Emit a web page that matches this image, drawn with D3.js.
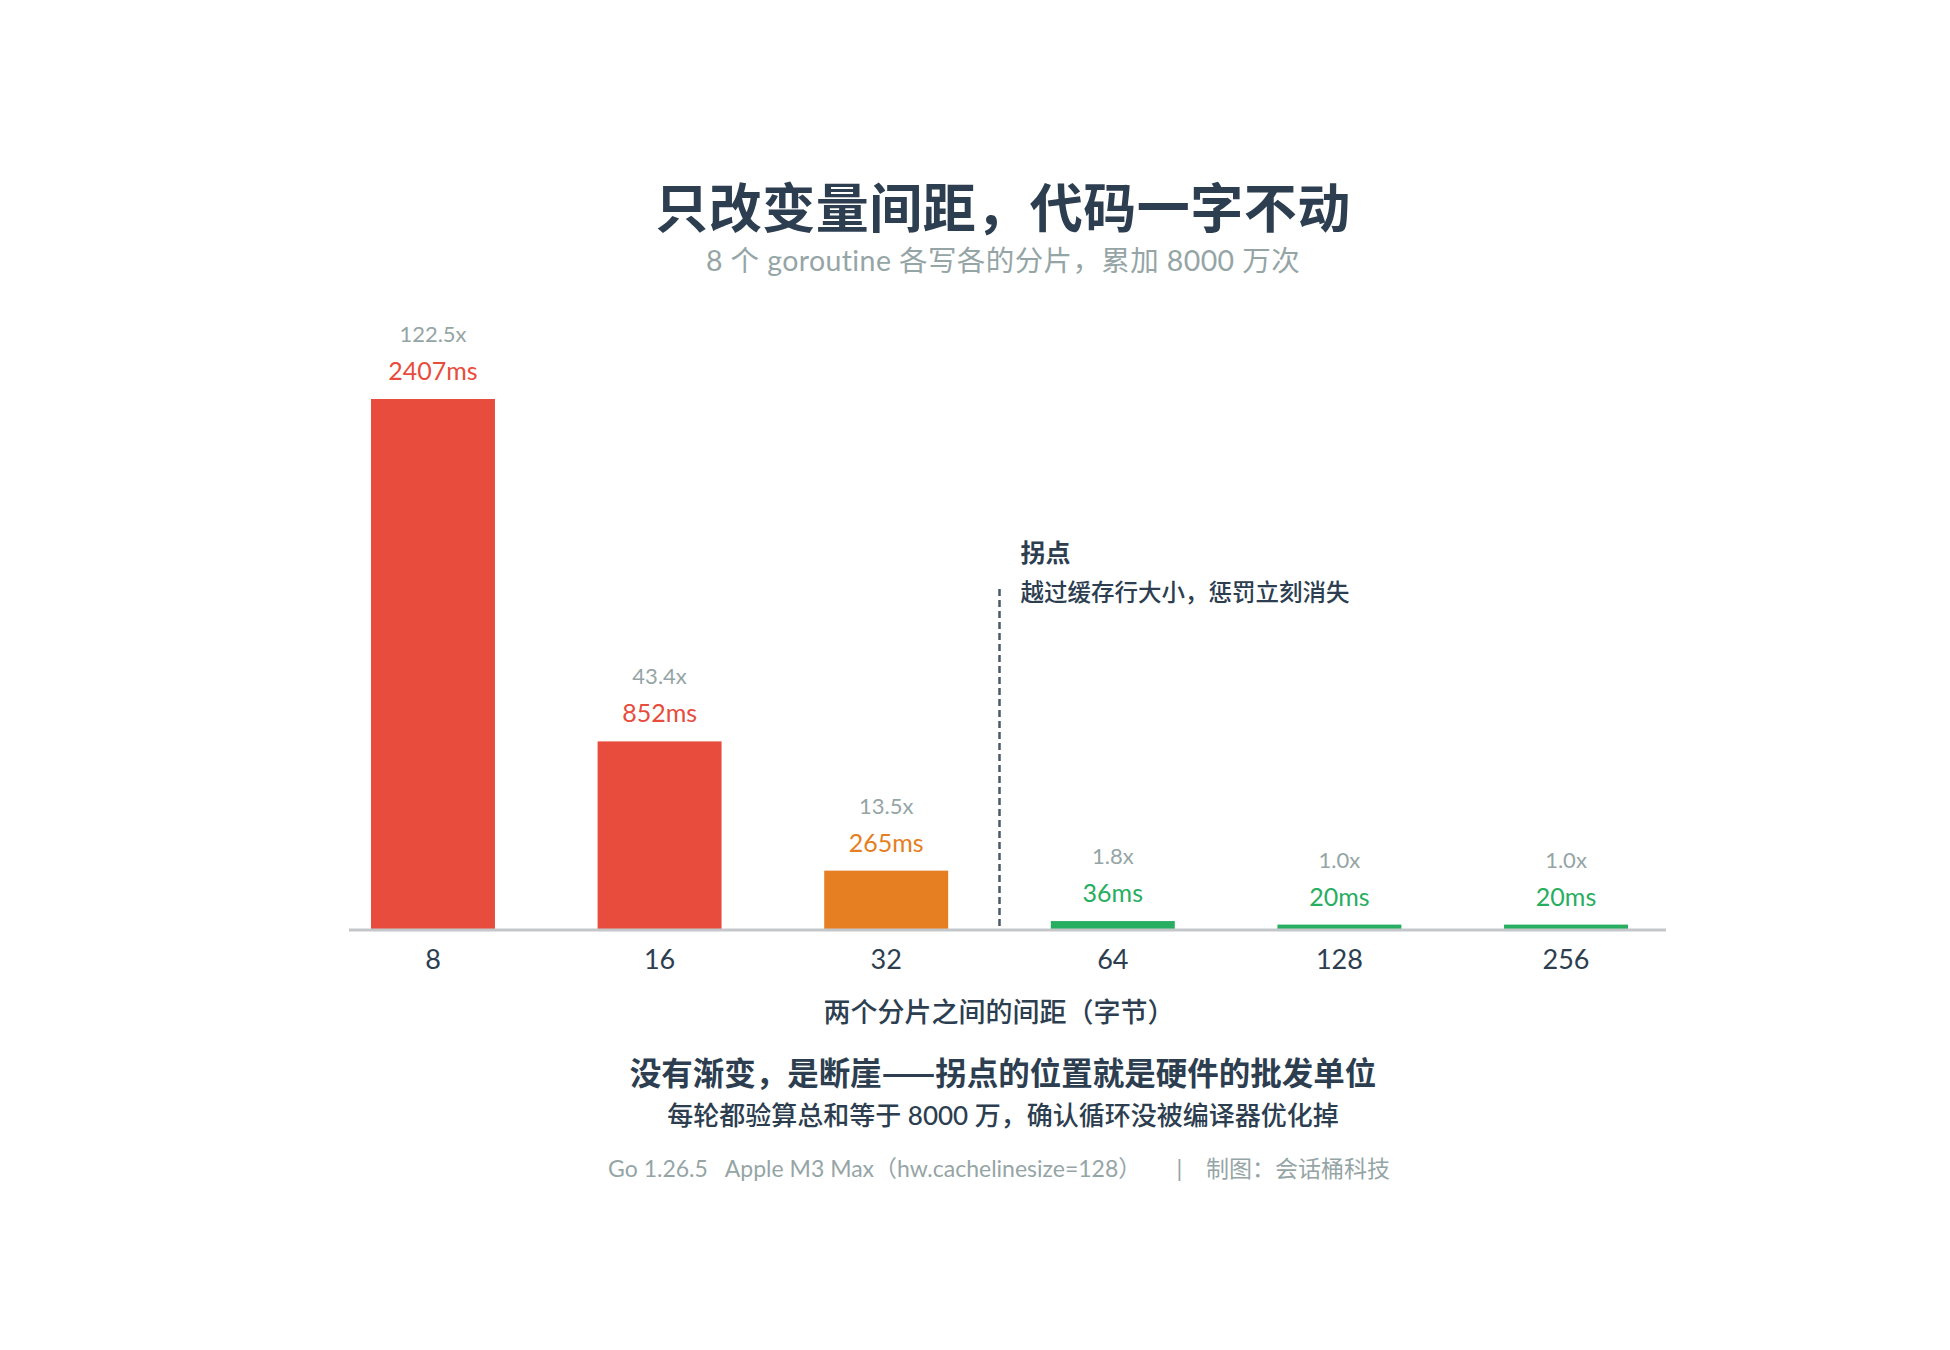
<!DOCTYPE html>
<html>
<head>
<meta charset="utf-8">
<script src="https://cdn.jsdelivr.net/npm/d3@7"></script>
<style>
  html, body { margin: 0; padding: 0; background: #ffffff; }
  svg text { white-space: pre; }
</style>
</head>
<body>
<script>
// ---- data ----
const categories = ["8", "16", "32", "64", "128", "256"];
const timesMs = [2407, 852, 265, 36, 20, 20];
const ratioLabels = ["122.5x", "43.4x", "13.5x", "1.8x", "1.0x", "1.0x"];
const titleText = "只改变量间距，代码一字不动";
const subtitleText = "8 个 goroutine 各写各的分片，累加 8000 万次";
const xAxisTitle = "两个分片之间的间距（字节）";
const annotationTitle = "拐点";
const annotationText = "越过缓存行大小，惩罚立刻消失";
const footerMain = "没有渐变，是断崖——拐点的位置就是硬件的批发单位";
const footerSub = "每轮都验算总和等于 8000 万，确认循环没被编译器优化掉";
const footerMeta = "Go 1.26.5   Apple M3 Max（hw.cachelinesize=128）      |    制图：会话桶科技";
const breakBetween = ["32", "64"];

// ---- setup ----
const W = 1950, H = 1350;
const FONT = "Lato, 'Noto Sans CJK SC', sans-serif";
const CJK = "'Noto Sans CJK SC', Lato, sans-serif";
const dark = "#2c3e50", gray = "#95a5a6";

const svg = d3.select("body").append("svg")
  .attr("width", W).attr("height", H)
  .style("background", "#fff");

const x = d3.scaleBand().domain(categories).range([371, 1628])
  .paddingInner(0.453).paddingOuter(0);
const y = d3.scaleLinear().domain([0, d3.max(timesMs)]).range([929, 399]);
const color = d3.scaleThreshold().domain([100, 500]).range(["#27ae60", "#e67e22", "#e74c3c"]);

const data = categories.map((c, i) => ({ c, v: timesMs[i], r: ratioLabels[i] }));
const cx = d => x(d.c) + x.bandwidth() / 2;

// title & subtitle
svg.append("text").attr("x", 1003).attr("y", 228)
  .attr("text-anchor", "middle").attr("font-family", CJK)
  .attr("font-size", 53).attr("font-weight", 600).attr("fill", dark)
  .attr("letter-spacing", 0.5)
  .text(titleText);
svg.append("text").attr("x", 1003).attr("y", 271)
  .attr("text-anchor", "middle").attr("font-family", FONT)
  .attr("font-size", 28.5).attr("fill", gray).attr("letter-spacing", 0.4)
  .text(subtitleText);

// bars
svg.append("g").selectAll("rect").data(data).join("rect")
  .attr("x", d => x(d.c)).attr("width", x.bandwidth())
  .attr("y", d => y(d.v)).attr("height", d => y(0) - y(d.v))
  .attr("fill", d => color(d.v));

// axis baseline
svg.append("line")
  .attr("x1", x.range()[0] - 22).attr("x2", x.range()[1] + 38)
  .attr("y1", y(0) + 1).attr("y2", y(0) + 1)
  .attr("stroke", "#c3c7ca").attr("stroke-width", 3);

// x axis tick labels via d3 axis
const xAxis = d3.axisBottom(x).tickSize(0).tickPadding(38);
const gx = svg.append("g").attr("transform", `translate(0,${y(0)})`).call(xAxis);
gx.select(".domain").remove();
gx.selectAll("text").attr("font-family", FONT).attr("font-size", 27)
  .attr("fill", dark).attr("dy", null).attr("y", 40);

// value labels
svg.append("g").selectAll("text").data(data).join("text")
  .attr("x", cx).attr("y", d => y(d.v) - 19)
  .attr("text-anchor", "middle").attr("font-family", FONT)
  .attr("font-size", 25).attr("fill", d => color(d.v))
  .text(d => d.v + "ms");
svg.append("g").selectAll("text").data(data).join("text")
  .attr("x", cx).attr("y", d => y(d.v) - 57)
  .attr("text-anchor", "middle").attr("font-family", FONT)
  .attr("font-size", 22).attr("fill", gray)
  .text(d => d.r);

// break line
const bx = (x(breakBetween[0]) + x.bandwidth() + x(breakBetween[1])) / 2;
svg.append("line").attr("x1", bx).attr("x2", bx)
  .attr("y1", 589).attr("y2", y(0))
  .attr("stroke", "#4a5a6a").attr("stroke-width", 2.5)
  .attr("stroke-dasharray", "7,4");
svg.append("text").attr("x", bx + 21).attr("y", 562)
  .attr("font-family", CJK).attr("font-size", 25).attr("font-weight", 600)
  .attr("fill", dark).text(annotationTitle);
svg.append("text").attr("x", bx + 21).attr("y", 601)
  .attr("font-family", CJK).attr("font-size", 23.5).attr("font-weight", 500)
  .attr("fill", dark).text(annotationText);

// x axis title
svg.append("text").attr("x", 999).attr("y", 1022)
  .attr("text-anchor", "middle").attr("font-family", CJK)
  .attr("font-size", 27).attr("font-weight", 500).attr("fill", dark)
  .text(xAxisTitle);

// footer
svg.append("text").attr("x", 1003).attr("y", 1085)
  .attr("text-anchor", "middle").attr("font-family", CJK)
  .attr("font-size", 31.5).attr("font-weight", 600).attr("fill", dark)
  .text(footerMain);
svg.append("text").attr("x", 1003).attr("y", 1125)
  .attr("text-anchor", "middle").attr("font-family", FONT)
  .attr("font-size", 26).attr("font-weight", 500).attr("fill", dark)
  .text(footerSub);
svg.append("text").attr("x", 999).attr("y", 1177)
  .attr("text-anchor", "middle").attr("font-family", FONT)
  .attr("font-size", 23).attr("fill", gray)
  .text(footerMeta);
</script>
</body>
</html>
